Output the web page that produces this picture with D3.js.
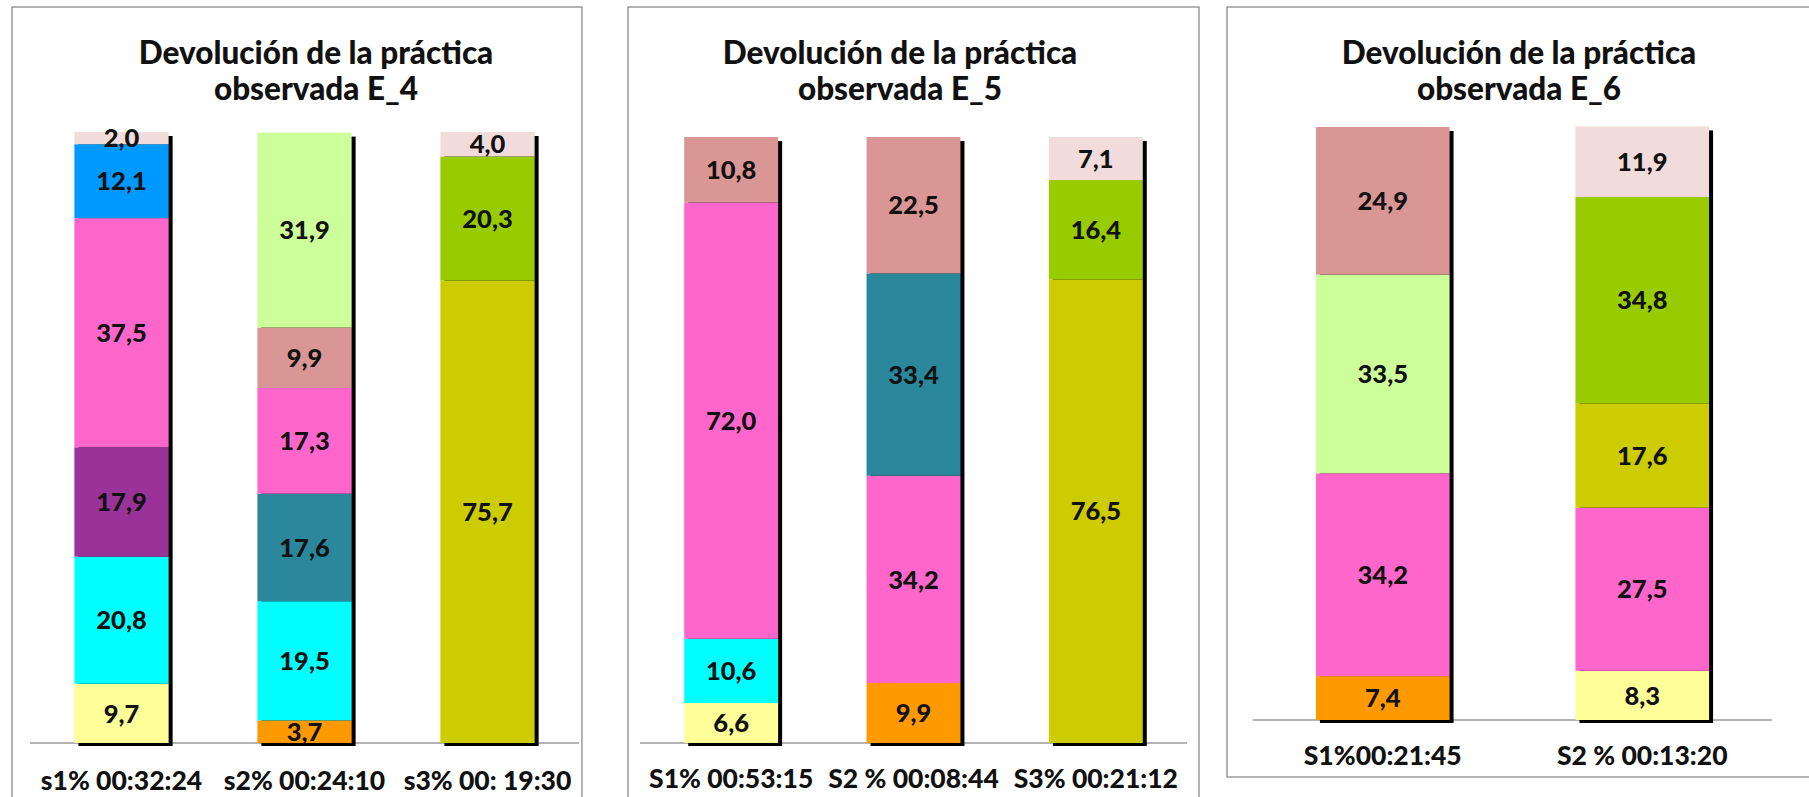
<!DOCTYPE html>
<html>
<head>
<meta charset="utf-8">
<script src="https://cdn.jsdelivr.net/npm/d3@7"></script>
<style>
  body { margin: 0; background: #ffffff; }
  svg { display: block; }
  text { font-family: "Lato", "Open Sans", sans-serif; font-weight: 900; fill: #111; }
</style>
</head>
<body>
<svg id="chart" width="1809" height="797"></svg>
<script>
// ---------- DATA ----------
const panelTitles = [
  ["Devolución de la práctica", "observada E_4"],
  ["Devolución de la práctica", "observada E_5"],
  ["Devolución de la práctica", "observada E_6"]
];

const e4Categories = ["s1% 00:32:24", "s2% 00:24:10", "s3% 00: 19:30"];
const e4Series = [
  ["amarillo", "cian", "morado", "rosa", "azul", "rosaClaro"],
  ["naranja", "cian", "petroleo", "rosa", "rosaViejo", "verdeClaro"],
  ["oliva", "verde", "rosaClaro"]
];
const e4Values = [
  [9.7, 20.8, 17.9, 37.5, 12.1, 2.0],
  [3.7, 19.5, 17.6, 17.3, 9.9, 31.9],
  [75.7, 20.3, 4.0]
];

const e5Categories = ["S1% 00:53:15", "S2 % 00:08:44", "S3% 00:21:12"];
const e5Series = [
  ["amarillo", "cian", "rosa", "rosaViejo"],
  ["naranja", "rosa", "petroleo", "rosaViejo"],
  ["oliva", "verde", "rosaClaro"]
];
const e5Values = [
  [6.6, 10.6, 72.0, 10.8],
  [9.9, 34.2, 33.4, 22.5],
  [76.5, 16.4, 7.1]
];

const e6Categories = ["S1%00:21:45", "S2 % 00:13:20"];
const e6Series = [
  ["naranja", "rosa", "verdeClaro", "rosaViejo"],
  ["amarillo", "rosa", "oliva", "verde", "rosaClaro"]
];
const e6Values = [
  [7.4, 34.2, 33.5, 24.9],
  [8.3, 27.5, 17.6, 34.8, 11.9]
];

const seriesNames  = ["amarillo", "naranja", "cian", "morado", "rosa", "petroleo", "azul", "rosaViejo", "verdeClaro", "oliva", "verde", "rosaClaro"];
const seriesColors = ["#FFFF99", "#FF9900", "#00FFFF", "#993399", "#FF66CC", "#2A879C", "#0099FF", "#DA9694", "#CCFF99", "#CCCC00", "#99CC00", "#F2DCDB"];

// ---------- LAYOUT ----------
const panels = [
  { cats: e4Categories, series: e4Series, values: e4Values,
    frame: [12, 7, 570, 840], axis: [30, 579], base: 743, top: 132, labelY: 789.5, titleX: 316 },
  { cats: e5Categories, series: e5Series, values: e5Values,
    frame: [628, 7, 571, 840], axis: [640, 1187], base: 743, top: 137, labelY: 787.5, titleX: 900 },
  { cats: e6Categories, series: e6Series, values: e6Values,
    frame: [1227, 7, 640, 770], axis: [1253, 1772], base: 720, top: 127, labelY: 764.5, titleX: 1519 }
];

const color = d3.scaleOrdinal().domain(seriesNames).range(seriesColors);
const esLocale = d3.formatLocale({ decimal: ",", thousands: ".", grouping: [3], currency: ["", "€"] });
const fmt = esLocale.format(".1f");

const svg = d3.select("#chart");

panels.forEach((p, pi) => {
  const g = svg.append("g");

  g.append("rect")
    .attr("x", p.frame[0]).attr("y", p.frame[1])
    .attr("width", p.frame[2]).attr("height", p.frame[3])
    .attr("fill", "#fff").attr("stroke", "#8a8a8a").attr("stroke-width", 1.3);

  const x = d3.scaleBand().domain(p.cats).range(p.axis).paddingInner(0.485).paddingOuter(0.2425);
  const y = d3.scaleLinear().domain([0, 100]).range([p.base, p.top]);

  const title = g.append("text").attr("text-anchor", "middle").style("font-size", "31.5px");
  title.append("tspan").attr("x", p.titleX).attr("y", 64).text(panelTitles[pi][0]);
  title.append("tspan").attr("x", p.titleX).attr("y", 100).text(panelTitles[pi][1]);

  // baseline axis
  g.append("line")
    .attr("x1", p.axis[0]).attr("x2", p.axis[1])
    .attr("y1", p.base).attr("y2", p.base)
    .attr("stroke", "#9a9a9a").attr("stroke-width", 1.5);

  p.cats.forEach((cat, ci) => {
    const vals = p.values[ci];
    const names = p.series[ci];
    const ends = Array.from(d3.cumsum(vals));
    const segs = vals.map((v, i) => ({ name: names[i], v, y0: ends[i] - v, y1: ends[i] }));
    const total = ends[ends.length - 1];
    const bx = x(cat), bw = x.bandwidth();

    // drop shadow
    g.append("rect")
      .attr("x", bx + 4).attr("y", y(total) + 4)
      .attr("width", bw).attr("height", y(0) - y(total) - 1)
      .attr("fill", "#000");

    const bar = g.append("g");
    bar.selectAll("rect").data(segs).join("rect")
      .attr("x", bx).attr("width", bw)
      .attr("y", d => y(d.y1))
      .attr("height", d => y(d.y0) - y(d.y1))
      .attr("fill", d => color(d.name));

    bar.selectAll("text").data(segs).join("text")
      .attr("x", bx + bw / 2)
      .attr("y", d => (y(d.y0) + y(d.y1)) / 2)
      .attr("dy", "0.36em")
      .attr("text-anchor", "middle")
      .style("font-size", "25.5px")
      .text(d => fmt(d.v));
  });

  // category labels
  g.selectAll("text.cat").data(p.cats).join("text")
    .attr("class", "cat")
    .attr("x", d => x(d) + x.bandwidth() / 2)
    .attr("y", p.labelY)
    .attr("text-anchor", "middle")
    .style("font-size", "26.5px")
    .text(d => d);
});
</script>
</body>
</html>
